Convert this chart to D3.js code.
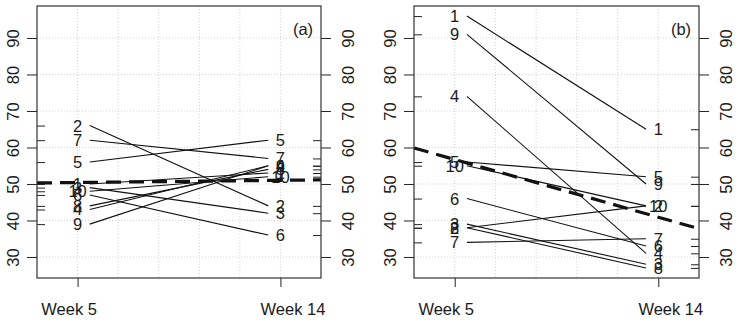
<!DOCTYPE html>
<html>
<head>
<meta charset="utf-8">
<script src="https://cdn.jsdelivr.net/npm/d3@7"></script>
<style>
  body { margin: 0; background: #fff; }
  svg text { font-family: "Liberation Sans", Arial, sans-serif; fill: #1a1a1a; }
</style>
</head>
<body>
<svg id="chart" width="742" height="321"></svg>
<script>

// subject ids and scores at the two visits
var subjects = ["1", "2", "3", "4", "5", "6", "7", "8", "9", "10"];
var weekLabels = ["Week 5", "Week 14"];
var weekPos = [1, 2];
var yTicks = [30, 40, 50, 60, 70, 80, 90];
var xGrid = [1, 1.2, 1.4, 1.6, 1.8, 2];

var a_week5  = [50, 66, 49, 43, 56, 47, 62, 44, 39, 48];
var a_week14 = [53, 44, 42, 55, 62, 36, 57, 54, 55, 52];

var b_week5  = [96, 38, 39, 74, 56, 46, 34, 38, 91, 55];
var b_week14 = [65, 44, 28, 31, 52, 33, 35, 27, 50, 44];

var svg = d3.select("#chart");
var top_y = 6, bottom_y = 278;

function draw_panel(left, right, w5, w14, tag) {
    var x = d3.scaleLinear().domain([0.8, 2.2]).range([left, right]);
    var y = d3.scaleLinear().domain([24.24, 98.76]).range([bottom_y, top_y]);
    var g = svg.append("g");

    // dotted grid
    g.selectAll(".vg").data(xGrid).enter().append("line")
        .attr("x1", d => x(d)).attr("x2", d => x(d))
        .attr("y1", top_y).attr("y2", bottom_y)
        .attr("stroke", "#d3d3d3").attr("stroke-dasharray", "1,2");
    g.selectAll(".hg").data(yTicks).enter().append("line")
        .attr("x1", left).attr("x2", right)
        .attr("y1", d => y(d)).attr("y2", d => y(d))
        .attr("stroke", "#d3d3d3").attr("stroke-dasharray", "1,2");

    // subject lines, a little clear of the labels
    subjects.forEach(function(s, i) {
        g.append("line")
            .attr("x1", x(1.06)).attr("y1", y(w5[i]))
            .attr("x2", x(1.94)).attr("y2", y(w14[i]))
            .attr("stroke", "#111").attr("stroke-width", 1.1);
    });

    // mean line through both visits, extended to the frame
    var m5 = d3.mean(w5), m14 = d3.mean(w14);
    var slope = m14 - m5;
    g.append("line")
        .attr("x1", x(0.8)).attr("y1", y(m5 + slope * (0.8 - 1)))
        .attr("x2", x(2.2)).attr("y2", y(m5 + slope * (2.2 - 1)))
        .attr("stroke", "#111").attr("stroke-width", 3.2)
        .attr("stroke-dasharray", "15,8");

    // subject labels
    subjects.forEach(function(s, i) {
        g.append("text").attr("x", x(1)).attr("y", y(w5[i])).attr("dy", "0.36em")
            .attr("text-anchor", "middle").attr("font-size", "16.5px").text(s);
        g.append("text").attr("x", x(2)).attr("y", y(w14[i])).attr("dy", "0.36em")
            .attr("text-anchor", "middle").attr("font-size", "16.5px").text(s);
    });

    // rugs, drawn inward
    g.append("g").attr("transform", "translate(" + left + ",0)")
        .call(d3.axisRight(y).tickValues(w5).tickSize(8).tickFormat(""))
        .call(a => a.select(".domain").remove());
    g.append("g").attr("transform", "translate(" + right + ",0)")
        .call(d3.axisLeft(y).tickValues(w14).tickSize(8).tickFormat(""))
        .call(a => a.select(".domain").remove());

    // left and right axes with rotated labels
    var ya = g.append("g").attr("transform", "translate(" + left + ",0)")
        .call(d3.axisLeft(y).tickValues(yTicks).tickSize(10).tickFormat(d3.format("d")));
    ya.select(".domain").remove();
    ya.selectAll("text").attr("font-size", "16.5px").attr("x", null).attr("dy", null)
        .attr("text-anchor", "middle")
        .attr("transform", "translate(-24,0) rotate(-90)").attr("dy", "0.36em");

    var yb = g.append("g").attr("transform", "translate(" + right + ",0)")
        .call(d3.axisRight(y).tickValues(yTicks).tickSize(10).tickFormat(d3.format("d")));
    yb.select(".domain").remove();
    yb.selectAll("text").attr("font-size", "16.5px").attr("x", null).attr("dy", null)
        .attr("text-anchor", "middle")
        .attr("transform", "translate(27,0) rotate(-90)").attr("dy", "0.36em");

    // bottom axis
    var xa = g.append("g").attr("transform", "translate(0," + bottom_y + ")")
        .call(d3.axisBottom(x).tickValues(weekPos).tickSize(9)
            .tickFormat((d, i) => weekLabels[i]));
    xa.select(".domain").remove();
    xa.selectAll("text").attr("font-size", "16.5px").attr("y", 25).attr("dy", "0.71em")
        .attr("dx", (d, i) => i == 0 ? -9 : 12);

    g.selectAll(".tick line").attr("stroke", "#222");

    // frame
    g.append("rect").attr("x", left).attr("y", top_y)
        .attr("width", right - left).attr("height", bottom_y - top_y)
        .attr("fill", "none").attr("stroke", "#333").attr("stroke-width", 1.2);

    g.append("text").attr("x", right - 18).attr("y", 35)
        .attr("text-anchor", "middle").attr("font-size", "16.5px").text(tag);
}

draw_panel(37, 321, a_week5, a_week14, "(a)");
draw_panel(414, 699, b_week5, b_week14, "(b)");

</script>
</body>
</html>
